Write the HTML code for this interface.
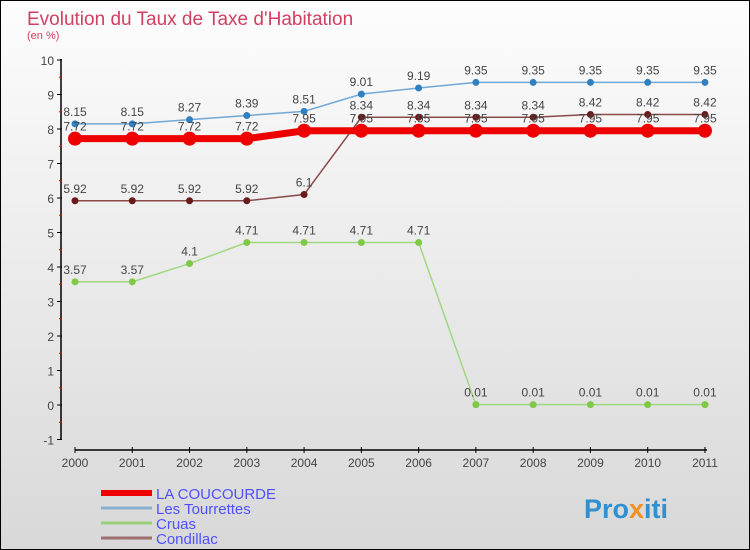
<!DOCTYPE html>
<html><head><meta charset="utf-8"><style>
body{margin:0}
#c{width:748px;height:548px;border:1px solid #000;background:linear-gradient(#fdfdfd,#d8d8d8);position:relative;font-family:"Liberation Sans",sans-serif;overflow:hidden}
</style></head><body>
<div id="c">
<svg id="s" width="748" height="548" style="position:absolute;left:0;top:0">
<text x="26" y="24" font-size="19" fill="#d04060">Evolution du Taux de Taxe d'Habitation</text>
<text x="26" y="38" font-size="11" fill="#d04060">(en %)</text>
<text x="583" y="517" font-size="27" font-weight="bold" fill="#3090d0">Pro<tspan fill="#f09020">x</tspan>iti</text>
</svg>
</div>
<script>
const years=[2000,2001,2002,2003,2004,2005,2006,2007,2008,2009,2010,2011];
const coucourde=[7.72,7.72,7.72,7.72,7.95,7.95,7.95,7.95,7.95,7.95,7.95,7.95];
const tourrettes=[8.15,8.15,8.27,8.39,8.51,9.01,9.19,9.35,9.35,9.35,9.35,9.35];
const cruas=[3.57,3.57,4.1,4.71,4.71,4.71,4.71,0.01,0.01,0.01,0.01,0.01];
const condillac=[5.92,5.92,5.92,5.92,6.1,8.34,8.34,8.34,8.34,8.42,8.42,8.42];
const yTicks=[-1,0,1,2,3,4,5,6,7,8,9,10];
const NS="http://www.w3.org/2000/svg";
const svg=document.getElementById('s');
const X=i=>74+i*57.27;
const Y=v=>404-v*34.5;
function el(t,a){const e=document.createElementNS(NS,t);for(const k in a)e.setAttribute(k,a[k]);svg.appendChild(e);return e;}
let ax=el('line',{x1:60,y1:58,x2:60,y2:439,stroke:'#000','stroke-width':1.5});


let bx=el('line',{x1:74,y1:449,x2:706,y2:449,stroke:'#000','stroke-width':1.5});


yTicks.forEach(v=>{
 el('line',{x1:56,y1:Y(v),x2:61,y2:Y(v),stroke:'#000'});
 if(v<10) el('line',{x1:58,y1:Y(v+0.5),x2:61,y2:Y(v+0.5),stroke:'#e00'});
 const t=el('text',{x:53,y:Y(v)+5,'font-size':12,fill:'#444','text-anchor':'end'});t.textContent=v;
 
 
});
years.forEach((y,i)=>{
 el('line',{x1:X(i),y1:446,x2:X(i),y2:452,stroke:'#000'});
 const t=el('text',{x:X(i),y:466,'font-size':12,fill:'#444','text-anchor':'middle'});t.textContent=y;
 
 
});
function series(d,col,dot,w,r,name){
 const p=el('polyline',{points:d.map((v,i)=>X(i)+','+Y(v)).join(' '),fill:'none',stroke:col,'stroke-width':w});
 
 
 d.forEach((v,i)=>{
  const c=el('circle',{cx:X(i),cy:Y(v),r:r,fill:dot});
  
  
  const t=el('text',{x:X(i),y:Y(v)-8,'font-size':12,fill:'#444','text-anchor':'middle'});t.textContent=v;
  
  
 });
}
series(cruas,'#a0d880','#80c848',1.5,3.5,'cruas');
series(condillac,'#8b4a4a','#6a1a1a',1.5,3.5,'condillac');
series(tourrettes,'#70a8d8','#3080c0',1.5,3.5,'tourrettes');
series(coucourde,'#ee0000','#ee0000',7,7,'la-coucourde');
const leg=[['LA COUCOURDE','#ee0000',6],['Les Tourrettes','#88b0d0',3],['Cruas','#98d078',3],['Condillac','#a07070',3]];
leg.forEach((l,i)=>{
 const y=492+i*15;
 const ln=el('line',{x1:100,y1:y,x2:151,y2:y,stroke:l[1],'stroke-width':l[2]});
 
 
 const t=el('text',{x:155,y:y+6,'font-size':15,fill:'#5050ff'});t.textContent=l[0];
 
 
});
</script>
</body></html>
